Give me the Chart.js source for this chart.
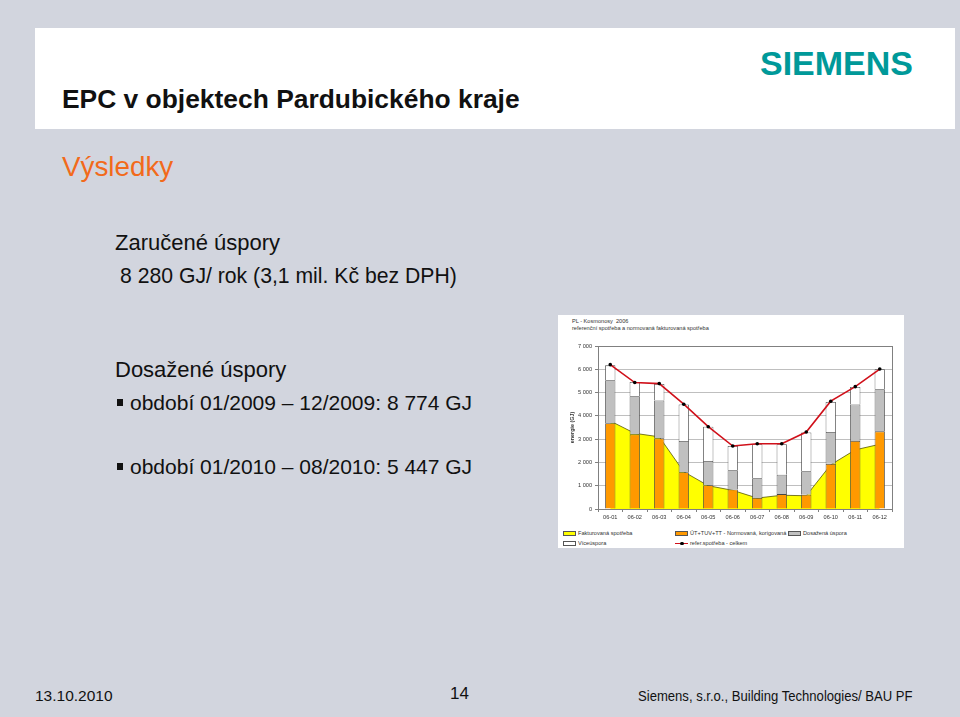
<!DOCTYPE html>
<html>
<head>
<meta charset="utf-8">
<script src="https://cdn.jsdelivr.net/npm/chart.js"></script>
<style>
  html, body { margin: 0; padding: 0; }
  body {
    width: 960px; height: 717px; position: relative; overflow: hidden;
    background: #D2D5DE;
    font-family: "Liberation Sans", Arial, sans-serif;
    color: #111;
  }
  .abs { position: absolute; white-space: nowrap; line-height: 1; }
  .header { position: absolute; left: 35px; top: 28px; width: 920px; height: 101px; background: #fff; }
  .panel { position: absolute; left: 558px; top: 315px; width: 346px; height: 233px; background: #fff; }
  .small { font-size: 5.6px; color: #333; }
  .bullet { position: absolute; width: 6px; height: 7px; background: #111; }
  .legItem { position: absolute; font-size: 5.6px; color: #333; white-space: nowrap; line-height: 6px; }
  .legBox { position: absolute; width: 11px; height: 3px; border: 1px solid #555; }
</style>
</head>
<body>

<div class="header"></div>
<div class="abs" style="left:62px; top:86px; font-size:26.4px; font-weight:bold;">EPC v objektech Pardubického kraje</div>
<div class="abs" style="left:760px; top:46px; font-size:34px; font-weight:bold; color:#009999;">SIEMENS</div>

<div class="abs" style="left:62px; top:153px; font-size:27.8px; color:#F26A1B;">Výsledky</div>
<div class="abs" style="left:115px; top:232px; font-size:22px;">Zaručené úspory</div>
<div class="abs" style="left:120px; top:265px; font-size:21.2px;">8 280 GJ/ rok (3,1 mil. Kč bez DPH)</div>
<div class="abs" style="left:115px; top:359px; font-size:22px;">Dosažené úspory</div>
<div class="bullet" style="left:117px; top:399px;"></div>
<div class="abs" style="left:130px; top:392px; font-size:21px;">období 01/2009 – 12/2009: 8 774 GJ</div>
<div class="bullet" style="left:117px; top:463px;"></div>
<div class="abs" style="left:130px; top:456px; font-size:21px;">období 01/2010 – 08/2010: 5 447 GJ</div>

<div class="abs" style="left:35px; top:688px; font-size:15.5px;">13.10.2010</div>
<div class="abs" style="left:450px; top:685px; font-size:17px;">14</div>
<div class="abs" style="left:638px; top:688px; font-size:15px; transform:scaleX(0.872); transform-origin:0 0;">Siemens, s.r.o., Building Technologies/ BAU PF</div>

<div class="panel">
  <div class="abs small" style="left:14px; top:4px;">PL - Kosmonosy&nbsp;&nbsp;2006</div>
  <div class="abs small" style="left:14px; top:11px;">referenční spotřeba a normovaná fakturovaná spotřeba</div>
  <div id="legend"></div>
</div>
<canvas id="chart" width="346" height="188" style="position:absolute; left:558px; top:336px;"></canvas>

<script>
// chart data
var categories = ['06-01', '06-02', '06-03', '06-04', '06-05', '06-06', '06-07', '06-08', '06-09', '06-10', '06-11', '06-12'];
var fakturovana = [3780, 3250, 3100, 1600, 1000, 800, 470, 590, 570, 1900, 2540, 2780];
var normovana = [3680, 3205, 3035, 1580, 1025, 840, 470, 640, 610, 1940, 2920, 3335];
var dosazenaUspora = [1850, 1635, 1625, 1340, 1040, 825, 855, 830, 1015, 1365, 1570, 1805];
var viceuspora = [640, 615, 710, 1570, 1470, 1040, 1455, 1310, 1665, 1295, 750, 860];
var referCelkem = [6200, 5430, 5385, 4500, 3535, 2705, 2805, 2805, 3305, 4630, 5255, 6010];
var yTickLabels = ['0', '1 000', '2 000', '3 000', '4 000', '5 000', '6 000', '7 000'];

var tickFont = { family: 'Liberation Sans, Arial, sans-serif', size: 5.6 };

// box round the plot area
var plotBorder = {
    id: 'plotBorder',
    afterDraw: function (chart) {
        var a = chart.chartArea, ctx = chart.ctx;
        ctx.save();
        ctx.strokeStyle = '#808080';
        ctx.lineWidth = 1;
        ctx.strokeRect(Math.round(a.left) + 0.5, Math.round(a.top) + 0.5, Math.round(a.right - a.left), Math.round(a.bottom - a.top));
        ctx.restore();
    }
};

var datasets = [
    {
        type: 'line', label: 'Fakturovaná spotřeba', data: fakturovana, stack: 'fakt', order: 10,
        fill: 'origin', backgroundColor: '#FFFF00', borderColor: '#55550a', borderWidth: 0.8,
        pointRadius: 0, tension: 0
    },
    {
        type: 'bar', label: 'ÚT+TUV+TT - Normovaná, korigovaná', data: normovana, stack: 'bars', order: 5,
        backgroundColor: '#FF9900', borderColor: '#444', borderWidth: 0.8
    },
    {
        type: 'bar', label: 'Dosažená úspora', data: dosazenaUspora, stack: 'bars', order: 5,
        backgroundColor: '#C0C0C0', borderColor: '#444', borderWidth: 0.8
    },
    {
        type: 'bar', label: 'Víceúspora', data: viceuspora, stack: 'bars', order: 5,
        backgroundColor: '#FFFFFF', borderColor: '#444', borderWidth: 0.8
    },
    {
        type: 'line', label: 'refer.spotřeba - celkem', data: referCelkem, stack: 'ref', order: 1,
        fill: false, borderColor: '#D0101A', borderWidth: 1.6, tension: 0,
        pointRadius: 1.8, pointBackgroundColor: '#000', pointBorderColor: '#000', pointBorderWidth: 0
    }
];

new Chart(document.getElementById('chart'), {
    data: { labels: categories, datasets: datasets },
    options: {
        responsive: false,
        animation: false,
        datasets: { bar: { barPercentage: 1, categoryPercentage: 0.42 } },
        layout: { padding: { top: 10, right: 12, left: 0, bottom: 0 } },
        plugins: { legend: { display: false }, tooltip: { enabled: false } },
        scales: {
            x: {
                stacked: true,
                afterFit: function (s) { s.height = 15; },
                grid: { offset: true, drawOnChartArea: false, drawTicks: true, tickLength: 3, color: '#808080' },
                border: { display: true, color: '#808080' },
                ticks: { font: tickFont, color: '#333', padding: 2, maxRotation: 0 }
            },
            y: {
                stacked: true, min: 0, max: 7000,
                afterFit: function (s) { s.width = 40; },
                grid: { color: '#BFBFBF', tickColor: '#808080', tickLength: 3 },
                border: { display: true, color: '#808080' },
                ticks: {
                    stepSize: 1000, font: tickFont, color: '#333', padding: 3,
                    callback: function (v) { return yTickLabels[Math.round(v / 1000)]; }
                },
                title: {
                    display: true, text: 'energie (GJ)', color: '#333',
                    font: { family: 'Liberation Sans, Arial, sans-serif', size: 5.4, weight: 'bold' },
                    padding: { top: 11, bottom: 0 }
                }
            }
        }
    },
    plugins: [plotBorder]
});

// legend laid out like the original (two rows, fixed columns)
var legendPos = [
    { ds: 0, x: 5, y: 215 },
    { ds: 1, x: 117, y: 215 },
    { ds: 2, x: 230, y: 215 },
    { ds: 3, x: 5, y: 225 },
    { ds: 4, x: 117, y: 225 }
];
var legend = document.getElementById('legend');
legendPos.forEach(function (p) {
    var ds = datasets[p.ds];
    var item = document.createElement('div');
    item.className = 'legItem';
    item.style.left = p.x + 'px';
    item.style.top = p.y + 'px';
    if (p.ds === 4) {
        var ln = document.createElement('div');
        ln.style.cssText = 'position:absolute;left:0;top:2.5px;width:13px;height:1.5px;background:' + ds.borderColor;
        var dot = document.createElement('div');
        dot.style.cssText = 'position:absolute;left:5px;top:1.5px;width:3.5px;height:3.5px;border-radius:50%;background:#000';
        item.appendChild(ln);
        item.appendChild(dot);
    } else {
        var box = document.createElement('div');
        box.className = 'legBox';
        box.style.left = '0px';
        box.style.top = '1px';
        box.style.background = ds.backgroundColor;
        item.appendChild(box);
    }
    var txt = document.createElement('span');
    txt.textContent = ds.label;
    txt.style.marginLeft = '15px';
    item.appendChild(txt);
    legend.appendChild(item);
});
</script>
</body>
</html>
